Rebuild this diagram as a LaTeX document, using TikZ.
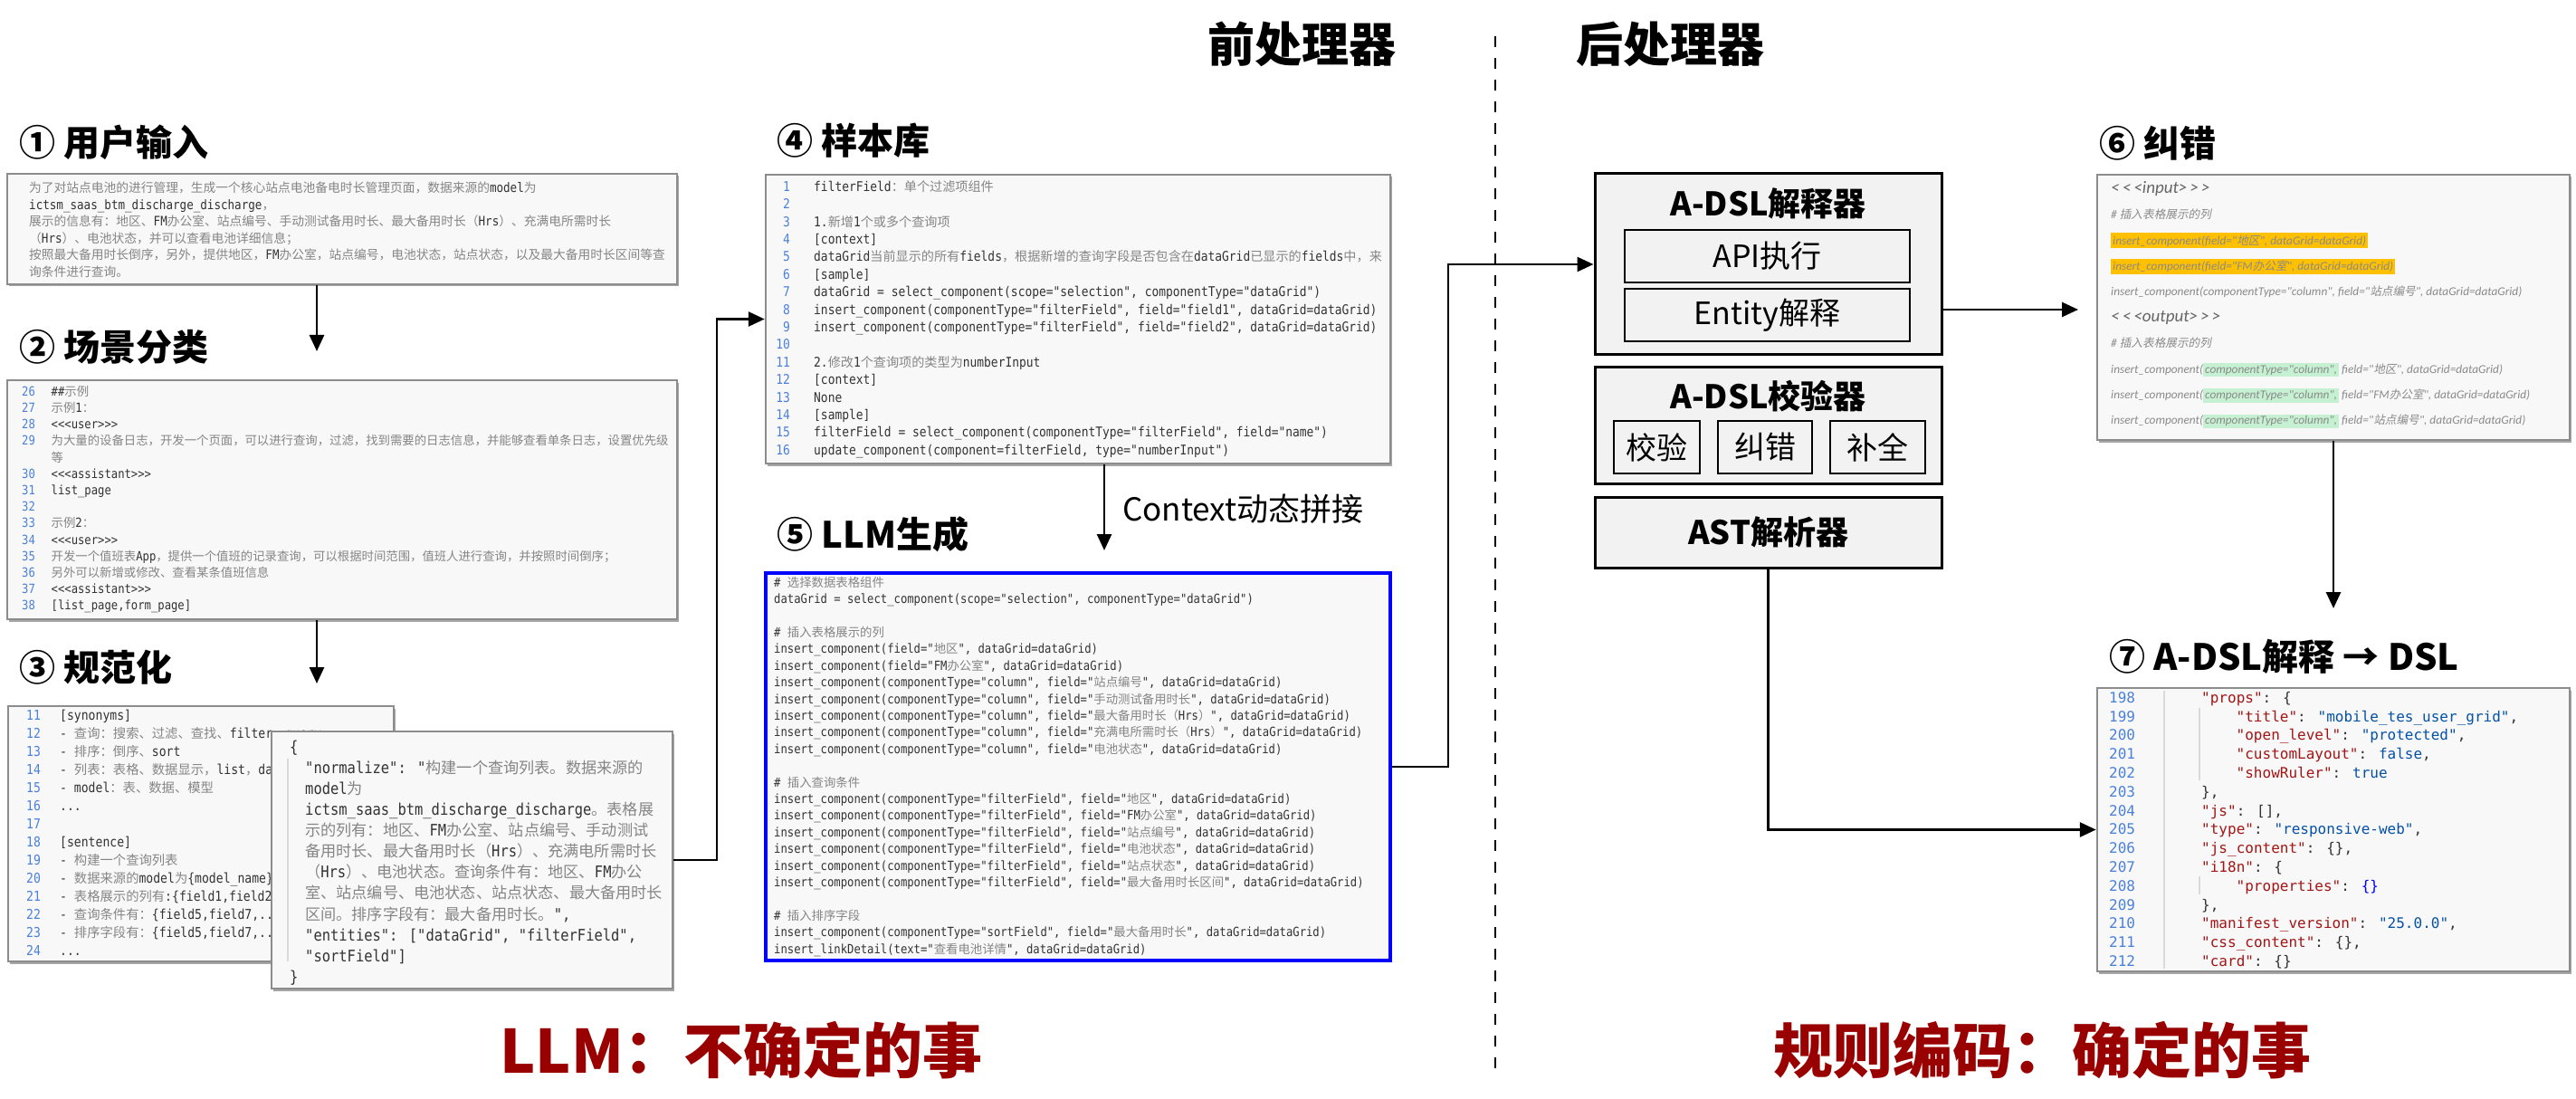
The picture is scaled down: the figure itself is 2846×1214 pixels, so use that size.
\documentclass[tikz,border=0pt]{standalone}
\usepackage{fontspec}
\usetikzlibrary{arrows.meta,shadows,positioning}

\setmainfont{Noto Sans CJK SC}
\newfontfamily\codefont[FakeStretch=0.873]{DejaVu Sans Mono}
\newfontfamily\jsonfont{DejaVu Sans Mono}
\newfontfamily\zhcode[Scale=0.955,Color=858585]{Noto Sans CJK SC}
\newfontfamily\zhbig[Scale=0.97,Color=858585]{Noto Sans CJK SC}
\newfontfamily\hllat[Color=8A8A8A]{Carlito}
\newfontfamily\hlzh[Scale=0.95,FakeSlant=0.2,Color=8A8A8A]{Noto Sans CJK SC}
\newfontfamily\tagfont[Color=666666]{Carlito}

\definecolor{boxgray}{HTML}{8C8C8C}
\definecolor{boxfill}{HTML}{F8F8F8}
\definecolor{grpfill}{HTML}{F2F2F2}
\definecolor{lnblue}{HTML}{4A80D9}
\definecolor{codeink}{HTML}{333333}
\definecolor{llmblue}{HTML}{0000FF}
\definecolor{verdictred}{HTML}{990000}
\definecolor{hlyellow}{HTML}{FFC000}
\definecolor{hlgreen}{HTML}{C6F0D2}
\definecolor{jkey}{HTML}{A31515}
\definecolor{jval}{HTML}{0451A5}
\definecolor{guidegray}{HTML}{DADADA}

% CJK fallback inside the code listings
\chardef\zhclass=40
\newcount\zhc
\def\setzh#1#2{\zhc=#1\relax\loop\XeTeXcharclass\zhc=\zhclass\advance\zhc by 1\relax\ifnum\zhc<#2\relax\repeat}
\setzh{"3000}{"3040}
\setzh{"4E00}{"A000}
\setzh{"FF00}{"FFF0}
\def\curzh{\zhcode}
\def\curlat{\codefont}
\XeTeXinterchartoks 0 \zhclass = {\curzh}
\XeTeXinterchartoks 4095 \zhclass = {\curzh}
\XeTeXinterchartoks \zhclass 0 = {\curlat}
\XeTeXinterchartoks 4095 0 = {\curlat}

\newcommand\tagline[1]{{\XeTeXinterchartokenstate=0\relax\tagfont\fontsize{19}{28.4}\selectfont#1}}
\newcommand\jk[1]{\textcolor{jkey}{"#1"}}
\newcommand\jv[1]{\textcolor{jval}{"#1"}}
\newcommand\ind[1]{\hspace*{#1pt}}
\newcommand\hly[1]{{\fboxsep=2pt\colorbox{hlyellow}{#1}}}
\newcommand\hlg[1]{{\fboxsep=2pt\colorbox{hlgreen}{#1}}}

\begin{document}
\begin{tikzpicture}[x=1pt,y=-1pt]
	\tikzstyle{codebox}=[draw=boxgray, line width=2.5pt, fill=boxfill, inner sep=0pt,
		drop shadow={shadow xshift=1.5pt, shadow yshift=-2.5pt, fill=black!35, opacity=1}]
	\tikzstyle{llmbox}=[draw=llmblue, line width=3.5pt, fill=boxfill, inner sep=0pt]
	\tikzstyle{grpbox}=[draw=black, line width=3pt, fill=grpfill, inner sep=0pt]
	\tikzstyle{subbox}=[draw=black, line width=2.5pt, fill=grpfill, inner sep=0pt, font=\fontsize{34}{40}\selectfont]
	\tikzstyle{grptitle}=[inner sep=0pt, font=\bfseries\fontsize{36}{42}\selectfont]
	\tikzstyle{steptitle}=[anchor=west, inner sep=0pt, font=\bfseries\fontsize{40}{48}\selectfont]
	\tikzstyle{phase}=[inner sep=0pt, font=\bfseries\fontsize{52}{60}\selectfont]
	\tikzstyle{verdict}=[anchor=west, inner sep=0pt, text=verdictred, font=\bfseries\fontsize{66}{76}\selectfont]
	\tikzstyle{conn}=[line width=2.8pt, -{Triangle[length=18pt,width=16pt]}]
	\tikzstyle{guide}=[draw=guidegray, line width=1.5pt]
	\tikzset{
		codetext/.style 2 args={anchor=north west, inner sep=0pt, align=left, text=codeink,
			font={\codefont\fontsize{#1}{#2}\selectfont\XeTeXinterchartokenstate=1\relax}},
		lnum/.style 2 args={anchor=north west, inner sep=0pt, align=left, text=lnblue,
			font={\codefont\fontsize{#1}{#2}\selectfont}}
	}

	\useasboundingbox (0,0) rectangle (2846,1214);

	% phase split
	\coordinate (sTop) at (1652,40);
	\coordinate (sBot) at (1652,1190);
	\draw[line width=2.5pt, dash pattern=on 12pt off 12pt] (sTop) -- (sBot);
	\node[phase] (pre) at (1438,49) {前处理器};
	\node[phase] (post) at (1845,49) {后处理器};

	% 1 user input
	\node[steptitle] (t1) at (21,157) {① 用户输入};
	\node[codebox, minimum width=740pt, minimum height=122pt] (b1) at (378,253) {};
	\node[codetext={14.4}{18.6}] (b1txt) at (32,198) {\rule{0pt}{14.4pt}为了对站点电池的进行管理，生成一个核心站点电池备电时长管理页面，数据来源的model为\\
		ictsm\_saas\_btm\_discharge\_discharge，\\
		展示的信息有：地区、FM办公室、站点编号、手动测试备用时长、最大备用时长（Hrs）、充满电所需时长\\
		（Hrs）、电池状态，并可以查看电池详细信息；\\
		按照最大备用时长倒序，另外，提供地区，FM办公室，站点编号，电池状态，站点状态，以及最大备用时长区间等查\\
		询条件进行查询。};

	% 2 scene classification
	\node[steptitle] (t2) at (21,383) {② 场景分类};
	\node[codebox, minimum width=740pt, minimum height=264pt] (b2) at (378,552) {};
	\node[lnum={14}{18.2}] (b2num) at (24,423) {\rule{0pt}{14pt}26\\27\\28\\29\\{}\\30\\31\\32\\33\\34\\35\\36\\37\\38};
	\node[codetext={14}{18.2}] (b2txt) at (56.5,423) {\rule{0pt}{14pt}\#\#示例\\
		示例1：\\
		<<<user>>>\\
		为大量的设备日志，开发一个页面，可以进行查询，过滤，找到需要的日志信息，并能够查看单条日志，设置优先级\\
		等\\
		<<<assistant>>>\\
		list\_page\\
		{}\\
		示例2：\\
		<<<user>>>\\
		开发一个值班表App，提供一个值班的记录查询，可以根据时间范围，值班人进行查询，并按照时间倒序；\\
		另外可以新增或修改、查看某条值班信息\\
		<<<assistant>>>\\
		{}[list\_page,form\_page]};

	% 3 normalisation
	\node[steptitle] (t3) at (21,737) {③ 规范化};
	\node[codebox, minimum width=426pt, minimum height=282pt] (b3) at (222,921) {};
	\node[lnum={15}{20}] (b3num) at (29,780) {\rule{0pt}{15pt}11\\12\\13\\14\\15\\16\\17\\18\\19\\20\\21\\22\\23\\24};
	\node[codetext={15}{20}] (b3txt) at (66,780) {\rule{0pt}{15pt}[synonyms]\\
		- 查询：搜索、过滤、查找、filter、query\\
		- 排序：倒序、sort\\
		- 列表：表格、数据显示，list，dataGrid\\
		- model：表、数据、模型\\
		...\\
		{}\\
		{}[sentence]\\
		- 构建一个查询列表\\
		- 数据来源的model为\{model\_name\}\\
		- 表格展示的列有:\{field1,field2,...\}\\
		- 查询条件有：\{field5,field7,...\}\\
		- 排序字段有：\{field5,field7,...\}\\
		...};
	\node[codebox, minimum width=443pt, minimum height=284pt] (b3o) at (521.5,950) {};
	\draw[guide] (318,838) -- (318,1062);
	\node[anchor=north west, inner sep=0pt, align=left, text=codeink,
		font={\codefont\fontsize{17.7}{23.1}\selectfont\let\curzh\zhbig\XeTeXinterchartokenstate=1\relax}]
		(b3otxt) at (320,813) {\rule{0pt}{18pt}\{\\
		\ind{17}"normalize": "构建一个查询列表。数据来源的\\
		\ind{17}model为\\
		\ind{17}ictsm\_saas\_btm\_discharge\_discharge。表格展\\
		\ind{17}示的列有：地区、FM办公室、站点编号、手动测试\\
		\ind{17}备用时长、最大备用时长（Hrs）、充满电所需时长\\
		\ind{17}（Hrs）、电池状态。查询条件有：地区、FM办公\\
		\ind{17}室、站点编号、电池状态、站点状态、最大备用时长\\
		\ind{17}区间。排序字段有：最大备用时长。",\\
		\ind{17}"entities": ["dataGrid", "filterField",\\
		\ind{17}"sortField"]\\
		\}};

	% 4 sample library
	\node[steptitle] (t4) at (858,155) {④ 样本库};
	\node[codebox, minimum width=690pt, minimum height=319pt] (b4) at (1191,352.5) {};
	\node[lnum={14.8}{19.4}, anchor=north east, align=right] (b4num) at (873,196) {\rule{0pt}{15pt}1\\2\\3\\4\\5\\6\\7\\8\\9\\10\\11\\12\\13\\14\\15\\16};
	\node[codetext={14.8}{19.4}] (b4txt) at (899,196) {\rule{0pt}{15pt}filterField：单个过滤项组件\\
		{}\\
		1.新增1个或多个查询项\\
		{}[context]\\
		dataGrid当前显示的所有fields，根据新增的查询字段是否包含在dataGrid已显示的fields中，来\\
		{}[sample]\\
		dataGrid = select\_component(scope="selection", componentType="dataGrid")\\
		insert\_component(componentType="filterField", field="field1", dataGrid=dataGrid)\\
		insert\_component(componentType="filterField", field="field2", dataGrid=dataGrid)\\
		{}\\
		2.修改1个查询项的类型为numberInput\\
		{}[context]\\
		None\\
		{}[sample]\\
		filterField = select\_component(componentType="filterField", field="name")\\
		update\_component(component=filterField, type="numberInput")};

	% 5 LLM generation
	\node[steptitle] (t5) at (858,590) {⑤ LLM生成};
	\node[llmbox, minimum width=690pt, minimum height=428pt] (b5) at (1191,847) {};
	\node[codetext={14}{18.4}] (b5txt) at (855,634) {\rule{0pt}{14pt}\# 选择数据表格组件\\
		dataGrid = select\_component(scope="selection", componentType="dataGrid")\\
		{}\\
		\# 插入表格展示的列\\
		insert\_component(field="地区", dataGrid=dataGrid)\\
		insert\_component(field="FM办公室", dataGrid=dataGrid)\\
		insert\_component(componentType="column", field="站点编号", dataGrid=dataGrid)\\
		insert\_component(componentType="column", field="手动测试备用时长", dataGrid=dataGrid)\\
		insert\_component(componentType="column", field="最大备用时长（Hrs）", dataGrid=dataGrid)\\
		insert\_component(componentType="column", field="充满电所需时长（Hrs）", dataGrid=dataGrid)\\
		insert\_component(componentType="column", field="电池状态", dataGrid=dataGrid)\\
		{}\\
		\# 插入查询条件\\
		insert\_component(componentType="filterField", field="地区", dataGrid=dataGrid)\\
		insert\_component(componentType="filterField", field="FM办公室", dataGrid=dataGrid)\\
		insert\_component(componentType="filterField", field="站点编号", dataGrid=dataGrid)\\
		insert\_component(componentType="filterField", field="电池状态", dataGrid=dataGrid)\\
		insert\_component(componentType="filterField", field="站点状态", dataGrid=dataGrid)\\
		insert\_component(componentType="filterField", field="最大备用时长区间", dataGrid=dataGrid)\\
		{}\\
		\# 插入排序字段\\
		insert\_component(componentType="sortField", field="最大备用时长", dataGrid=dataGrid)\\
		insert\_linkDetail(text="查看电池详情", dataGrid=dataGrid)};

	% post-processor blocks
	\node[grpbox, minimum width=383pt, minimum height=200pt] (g1) at (1953.5,292) {};
	\node[grptitle] (g1t) at (1953.5,225) {A-DSL解释器};
	\node[subbox, minimum width=315pt, minimum height=58pt] (api) at (1952.5,283) {API执行};
	\node[subbox, minimum width=315pt, minimum height=58pt] (ent) at (1952.5,348) {Entity解释};
	\node[grpbox, minimum width=383pt, minimum height=128pt] (g2) at (1953.5,470) {};
	\node[grptitle] (g2t) at (1953.5,438) {A-DSL校验器};
	\node[subbox, minimum width=95pt, minimum height=58pt] (chk) at (1830.5,494) {校验};
	\node[subbox, minimum width=104pt, minimum height=58pt] (fix) at (1950,494) {纠错};
	\node[subbox, minimum width=105pt, minimum height=58pt] (cmp) at (2074.5,494) {补全};
	\node[grpbox, minimum width=383pt, minimum height=78pt] (g3) at (1953.5,588) {};
	\node[grptitle] (g3t) at (1953.5,588) {AST解析器};

	% 6 correction
	\node[steptitle] (t6) at (2319,158) {⑥ 纠错};
	\node[codebox, minimum width=522pt, minimum height=293pt] (b6) at (2578,339.5) {};
	\node[anchor=north west, inner sep=0pt, align=left,
		font={\hllat\itshape\fontsize{13.3}{28.4}\selectfont\def\curlat{\hllat\itshape}\def\curzh{\hlzh}\XeTeXinterchartokenstate=1\relax}]
		(b6txt) at (2332,191) {\rule{0pt}{22pt}\tagline{<\,<\,<input>\,>\,>}\\
		\# 插入表格展示的列\\
		\hly{insert\_component(field="地区", dataGrid=dataGrid)}\\
		\hly{insert\_component(field="FM办公室", dataGrid=dataGrid)}\\
		insert\_component(componentType="column", field="站点编号", dataGrid=dataGrid)\\
		\tagline{<\,<\,<output>\,>\,>}\\
		\# 插入表格展示的列\\
		insert\_component(\hlg{componentType="column",} field="地区", dataGrid=dataGrid)\\
		insert\_component(\hlg{componentType="column",} field="FM办公室", dataGrid=dataGrid)\\
		insert\_component(\hlg{componentType="column",} field="站点编号", dataGrid=dataGrid)};

	% 7 A-DSL to DSL
	\node[steptitle] (t7) at (2330,725) {⑦ A-DSL解释 → DSL};
	\node[codebox, minimum width=522pt, minimum height=313pt] (b7) at (2578,916.5) {};
	\draw[guide] (2391,763) -- (2391,1070);
	\draw[guide] (2430,782) -- (2430,862);
	\draw[guide] (2430,968) -- (2430,988);
	\node[lnum={16}{20.8}, font={\jsonfont\fontsize{16}{20.8}\selectfont}] (b7num) at (2330,760) {\rule{0pt}{16pt}198\\199\\200\\201\\202\\203\\204\\205\\206\\207\\208\\209\\210\\211\\212};
	\node[anchor=north west, inner sep=0pt, align=left, text=codeink, font={\jsonfont\fontsize{16}{20.8}\selectfont}]
		(b7txt) at (2432,760) {\rule{0pt}{16pt}\jk{props}: \{\\
		\ind{38.5}\jk{title}: \jv{mobile\_tes\_user\_grid},\\
		\ind{38.5}\jk{open\_level}: \jv{protected},\\
		\ind{38.5}\jk{customLayout}: \textcolor{jval}{false},\\
		\ind{38.5}\jk{showRuler}: \textcolor{jval}{true}\\
		\},\\
		\jk{js}: [],\\
		\jk{type}: \jv{responsive-web},\\
		\jk{js\_content}: \{\},\\
		\jk{i18n}: \{\\
		\ind{38.5}\jk{properties}: \textcolor{llmblue}{\{\}}\\
		\},\\
		\jk{manifest\_version}: \jv{25.0.0},\\
		\jk{css\_content}: \{\},\\
		\jk{card}: \{\}};

	% connectors
	\coordinate (a12) at (350,388);
	\draw[conn] (a12 |- b1.south) -- (a12);
	\coordinate (a23) at (350,755);
	\draw[conn] (a23 |- b2.south) -- (a23);
	\coordinate (k1) at (792,352.5);
	\draw[conn] (b3o.east) -| (k1) -- (b4.west);
	\coordinate (a45) at (1220,608);
	\draw[conn] (a45 |- b4.south) -- (a45);
	\node[anchor=west, inner sep=0pt, font=\fontsize{35}{40}\selectfont] (ctx) at (1240,562) {Context动态拼接};
	\coordinate (k2) at (1600,292);
	\draw[conn] (b5.east) -| (k2) -- (g1.west);
	\coordinate (a16) at (2296,342);
	\draw[conn] (g1.east |- a16) -- (a16);
	\coordinate (a67) at (2578,672);
	\draw[conn] (b6.south) -- (a67);
	\draw[conn] (g3.south) |- (b7.west);

	% verdicts
	\node[verdict] (llm) at (552,1160) {LLM：不确定的事};
	\node[verdict] (rule) at (1959,1160) {规则编码：确定的事};
\end{tikzpicture}
\end{document}
